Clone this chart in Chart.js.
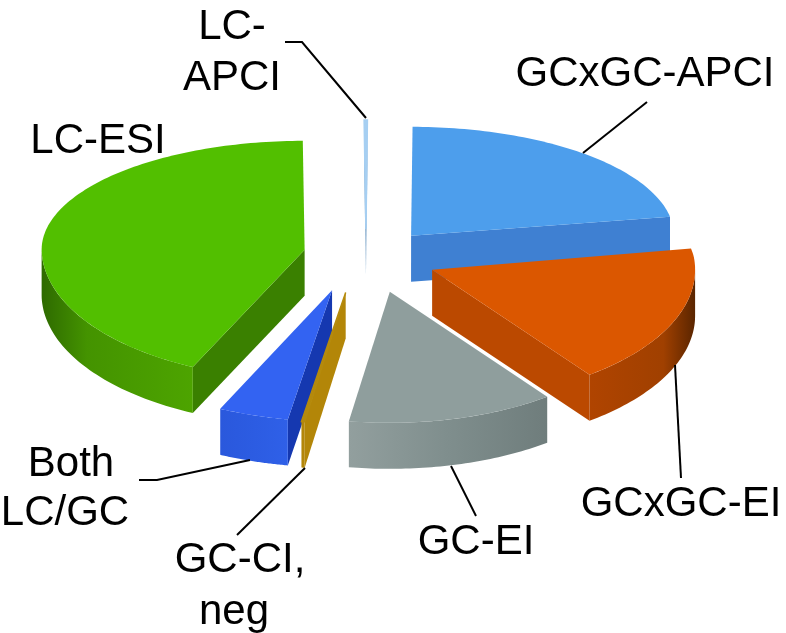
<!DOCTYPE html>
<html><head><meta charset="utf-8">
<style>html,body{margin:0;padding:0;background:#fff}canvas{display:block}</style>
<script src="https://cdn.jsdelivr.net/npm/chart.js@4"></script>
</head><body><canvas id="c" width="786" height="633"></canvas>
<script>
const categories=['LC-APCI','GCxGC-APCI','GCxGC-EI','GC-EI','GC-CI, neg','Both LC/GC','LC-ESI'];
const shares=[0.2,22.1,17.6,12.7,0.2,4.3,42.9];
const topColors=['#a6cff2','#4d9eec','#db5700','#8f9e9d','#b58a0c','#3363f2','#52bf00'];
const cutColors=['#7fa6ca','#3f80d2','#bb4900','#7f8e8d','#b38608','#1538b0','#3a8000'];
const wallLeft=['#7fa6ca','#3f80d2','#b04400','#929f9e','#b38608','#2a58dc','#2e6a00'];
const wallMid=['#7fa6ca','#3f80d2','#a04000','#7f8e8d','#b38608','#2c5ce2','#449300'];
const wallRight=['#7fa6ca','#3f80d2','#5a2500','#6f7d7c','#b38608','#2f60e8','#4da400'];
const wallStop=[.5,.5,.7,.5,.5,.5,.3];
const explode=[70,70,70,70,70,70,70];
const sideShift=[0,0,1,7,-9,-13,7];
const liftShift=[0,0,-1,0,0,-1,-2];
const drawOrder=[0,6,1,2,5,4,3];
const labelLines=[
 {text:['LC-','APCI'],x:[232,232],y:[39,90]},
 {text:['GCxGC-APCI'],x:[645],y:[86]},
 {text:['GCxGC-EI'],x:[681],y:[516]},
 {text:['GC-EI'],x:[476],y:[554]},
 {text:['GC-CI,','neg'],x:[240,234],y:[572,624]},
 {text:['Both','LC/GC'],x:[71,65],y:[476,525]},
 {text:['LC-ESI'],x:[98],y:[153]}];
const leaders=[
 [[285,42],[302,42],[366,118]],
 [[583,153],[647,102]],
 [[675,365],[681,478]],
 [[451,466],[476,516]],
 [[305,468],[237,535]],
 [[139,480],[157,480],[250,460]]];
const RX=263,RYB=109,RYF=131,DEPTH=46;
const g=V=>V*(V<0?RYB:RYF);
const pie3d={id:'pie3d',
 beforeDatasetDraw(chart){
  const c=chart.ctx,els=chart.getDatasetMeta(0).data;
  drawOrder.forEach(i=>{
   const e=els[i],o=e.options,mid=(e.startAngle+e.endAngle)/2,off=o.offset/RX;
   const ou=Math.cos(mid)*off,ov=Math.sin(mid)*off;
   const P=(a,r=1)=>[e.x+sideShift[i]+(ou+Math.cos(a)*r)*RX,e.y+liftShift[i]+g(ov+Math.sin(a)*r)];
   const poly=(pts,fill)=>{c.beginPath();pts.forEach((p,k)=>k?c.lineTo(p[0],p[1]):c.moveTo(p[0],p[1]));c.closePath();c.fillStyle=fill;c.fill();};
   const down=p=>[p[0],p[1]+DEPTH];
   const a0=e.startAngle,a1=e.endAngle,apex=P(a0,0);
   const face=a=>{const r=P(a);poly([apex,r,down(r),down(apex)],cutColors[i]);};
   if(Math.cos(a0)<0)face(a0);
   if(Math.cos(a1)>0)face(a1);
   const w0=Math.max(a0,0),w1=Math.min(a1,Math.PI);
   if(w1>w0){
     const top=[];for(let k=0;k<=48;k++)top.push(P(w1+(w0-w1)*k/48));
     const gr=c.createLinearGradient(top[0][0],0,top[48][0],0);
     gr.addColorStop(0,wallLeft[i]);gr.addColorStop(wallStop[i],wallMid[i]);gr.addColorStop(1,wallRight[i]);
     poly(top.concat(top.slice().reverse().map(down)),gr);
   }
   const pts=[apex];const n=Math.max(2,Math.ceil((a1-a0)/0.02));
   for(let k=0;k<=n;k++)pts.push(P(a0+(a1-a0)*k/n));
   poly(pts,topColors[i]);
   if(o.borderWidth>0){c.lineWidth=o.borderWidth;c.strokeStyle=o.borderColor;c.stroke();}
  });
  return false;
 },
 afterDraw(chart){
  const c=chart.ctx;
  c.strokeStyle='#000';c.lineWidth=2;c.lineJoin='miter';
  leaders.forEach(l=>{c.beginPath();l.forEach((p,k)=>k?c.lineTo(p[0],p[1]):c.moveTo(p[0],p[1]));c.stroke();});
  c.fillStyle='#000';c.font='42px "Liberation Sans"';c.textAlign='center';c.textBaseline='alphabetic';
  labelLines.forEach(l=>l.text.forEach((t,k)=>c.fillText(t,l.x[k],l.y[k])));
 }};
new Chart(document.getElementById('c'),{
 type:'pie',
 data:{labels:categories,datasets:[{data:shares,backgroundColor:topColors,offset:explode,
   borderWidth:[1.5,0,0,0,1.5,0,0],borderColor:topColors}]},
 options:{responsive:false,animation:false,rotation:-0.4,
  layout:{padding:{right:54,bottom:117}},
  plugins:{legend:{display:false},tooltip:{enabled:false},title:{display:false}}},
 plugins:[pie3d]});
</script></body></html>
